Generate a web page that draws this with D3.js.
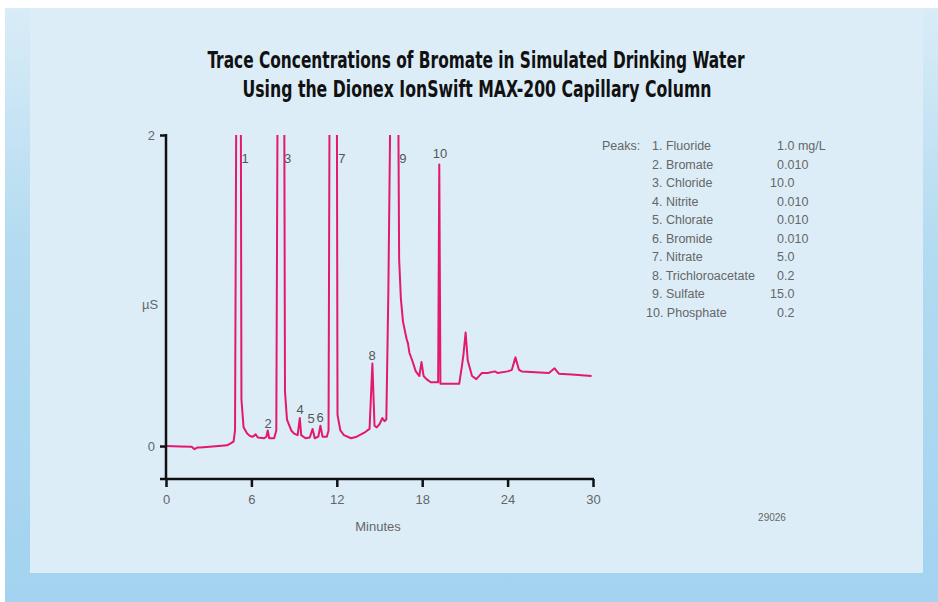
<!DOCTYPE html>
<html>
<head>
<meta charset="utf-8">
<script src="https://cdn.jsdelivr.net/npm/d3@7"></script>
<style>
  body { margin: 0; background: #fff; }
  svg { display: block; }
  text { font-family: "Liberation Sans", Arial, sans-serif; }
  .title text { font-family: "DejaVu Sans Condensed", "Liberation Sans", sans-serif; }
</style>
</head>
<body>
<svg width="938" height="602"></svg>
<script>
// chromatogram trace, time (min) vs conductance (µS); peaks above 2 are off scale
const times = [0, 1.0, 1.8, 2.0, 2.2, 2.4, 3.5, 4.3, 4.6, 4.75, 4.85, 4.95, 5.1, 5.25, 5.3, 5.45, 5.7, 5.9,
  6.1, 6.3, 6.45, 6.9, 7.05, 7.15, 7.25, 7.6, 7.75, 7.85, 8.1, 8.3, 8.36, 8.5, 8.8, 9.0, 9.25, 9.4, 9.5,
  9.8, 10.1, 10.3, 10.45, 10.7, 10.85, 11.0, 11.3, 11.42, 11.5, 11.75, 12.0, 12.05, 12.25, 12.5, 13.0, 13.4,
  14.0, 14.3, 14.5, 14.65, 14.8, 15.0, 15.2, 15.35, 15.48, 15.62, 15.8, 16.05, 16.3, 16.38, 16.5, 16.65,
  16.9, 17.0, 17.1, 17.3, 17.55, 17.8, 17.95, 18.1, 18.3, 18.6, 19.12, 19.2, 19.28, 19.5, 20.6, 20.8,
  20.9, 21.05, 21.2, 21.5, 21.8, 22.2, 22.6, 23.1, 23.3, 24.0, 24.3, 24.55, 24.8, 25.0, 26.9, 27.3, 27.6,
  28.5, 29.9];
const signal = [0, -0.003, -0.005, -0.02, -0.01, -0.01, -0.002, 0.005, 0.02, 0.03, 0.1, 2.5, 6, 2.5, 0.3, 0.12, 0.08, 0.065,
  0.06, 0.075, 0.055, 0.05, 0.06, 0.1, 0.05, 0.05, 0.1, 2.5, 6, 2.5, 0.35, 0.17, 0.1, 0.08, 0.07, 0.18, 0.07,
  0.05, 0.055, 0.11, 0.05, 0.06, 0.13, 0.06, 0.06, 0.1, 2.5, 6, 2.5, 0.2, 0.1, 0.07, 0.05, 0.06,
  0.09, 0.11, 0.53, 0.13, 0.12, 0.14, 0.18, 0.16, 0.17, 0.98, 2.5, 6, 2.5, 1.2, 0.95, 0.8,
  0.69, 0.66, 0.6, 0.55, 0.48, 0.45, 0.54, 0.45, 0.43, 0.41, 0.41, 1.81, 0.4, 0.4, 0.4, 0.52,
  0.59, 0.73, 0.55, 0.45, 0.43, 0.47, 0.47, 0.48, 0.47, 0.48, 0.49, 0.57, 0.49, 0.48, 0.47, 0.50, 0.465,
  0.46, 0.45];

// peak labels on the trace
const peakIds = ["1", "2", "3", "4", "5", "6", "7", "8", "9", "10"];
const peakTimes = [5.55, 7.17, 8.55, 9.42, 10.19, 10.82, 12.35, 14.48, 16.65, 19.25];
const peakLabelY = [1.82, 0.116, 1.82, 0.206, 0.148, 0.154, 1.82, 0.553, 1.82, 1.85];

// peaks table
const peakNames = ["Fluoride", "Bromate", "Chloride", "Nitrite", "Chlorate", "Bromide", "Nitrate",
  "Trichloroacetate", "Sulfate", "Phosphate"];
const peakConc = ["1.0 mg/L", "0.010", "10.0", "0.010", "0.010", "0.010", "5.0", "0.2", "15.0", "0.2"];

const xTicks = [0, 6, 12, 18, 24, 30];
const yTicks = [0, 2];

const svg = d3.select("svg");

// background: blue frame and pale panel
const defs = svg.append("defs");
const grad = defs.append("linearGradient").attr("id", "outer")
    .attr("x1", 0).attr("y1", 0).attr("x2", 0).attr("y2", 1);
grad.append("stop").attr("offset", "0%").attr("stop-color", "#d9ecf7");
grad.append("stop").attr("offset", "40%").attr("stop-color", "#b3dbf1");
grad.append("stop").attr("offset", "100%").attr("stop-color", "#a3d3f0");
svg.append("rect").attr("x", 5).attr("y", 8).attr("width", 933).attr("height", 594).attr("fill", "url(#outer)");
svg.append("rect").attr("x", 30).attr("y", 8).attr("width", 893).attr("height", 565).attr("fill", "#dcedf8");

// title
const title = svg.append("g").attr("class", "title").attr("font-weight", "bold").attr("fill", "#111").attr("font-size", 23);
title.append("text").attr("x", 476).attr("y", 68).attr("text-anchor", "middle")
    .attr("textLength", 537).attr("lengthAdjust", "spacingAndGlyphs")
    .text("Trace Concentrations of Bromate in Simulated Drinking Water");
title.append("text").attr("x", 477).attr("y", 97).attr("text-anchor", "middle")
    .attr("textLength", 469).attr("lengthAdjust", "spacingAndGlyphs")
    .text("Using the Dionex IonSwift MAX-200 Capillary Column");

// scales
const x = d3.scaleLinear().domain([0, 30]).range([166, 593]);
const y = d3.scaleLinear().domain([-0.212, 2]).range([479, 135]);

// clip off-scale peaks at the top of the y axis
defs.append("clipPath").attr("id", "plot")
  .append("rect").attr("x", x(0)).attr("y", y(2)).attr("width", x(30) - x(0) + 10).attr("height", y(-0.212) - y(2));

const line = d3.line().x(d => x(d[0])).y(d => y(d[1]));
svg.append("path")
    .datum(d3.zip(times, signal))
    .attr("clip-path", "url(#plot)")
    .attr("fill", "none")
    .attr("stroke", "#e3186f")
    .attr("stroke-width", 2)
    .attr("stroke-linejoin", "round")
    .attr("d", line);

// axes
const xAxis = svg.append("g").attr("transform", `translate(0,${y(-0.212)})`)
    .call(d3.axisBottom(x).tickValues(xTicks).tickSize(8).tickPadding(8).tickSizeOuter(0));
xAxis.select(".domain").remove();
xAxis.append("line").attr("x1", x(0) - 6).attr("x2", x(30) + 1).attr("stroke", "#111").attr("stroke-width", 2.5);
xAxis.selectAll(".tick line").attr("stroke", "#111").attr("stroke-width", 2.5);

const yAxis = svg.append("g").attr("transform", `translate(${x(0)},0)`)
    .call(d3.axisLeft(y).tickValues(yTicks).tickFormat(d3.format("d")).tickSize(6).tickPadding(5).tickSizeOuter(0));
yAxis.select(".domain").remove();
yAxis.append("line").attr("y1", y(2) - 1).attr("y2", y(-0.212)).attr("stroke", "#111").attr("stroke-width", 2.5);
yAxis.selectAll(".tick line").attr("stroke", "#111").attr("stroke-width", 2.5);

svg.selectAll(".tick text").attr("fill", "#666").attr("font-size", 13)
    .attr("font-family", "'Liberation Sans', Arial, sans-serif");

// axis titles
svg.append("text").attr("x", 150).attr("y", 309).attr("text-anchor", "middle")
    .attr("font-size", 13).attr("fill", "#666").text("µS");
svg.append("text").attr("x", 378).attr("y", 531).attr("text-anchor", "middle")
    .attr("font-size", 13).attr("fill", "#666").text("Minutes");

// peak numbers
svg.append("g").selectAll("text")
    .data(peakIds)
    .join("text")
    .attr("x", (d, i) => x(peakTimes[i]))
    .attr("y", (d, i) => y(peakLabelY[i]))
    .attr("text-anchor", "middle")
    .attr("font-size", 13)
    .attr("fill", "#555")
    .text(d => d);

// peaks table
const table = svg.append("g").attr("font-size", 12.5).attr("fill", "#666");
table.append("text").attr("x", 602).attr("y", 150).text("Peaks:");
peakNames.forEach((name, i) => {
    const rowY = 150 + i * 18.5;
    table.append("text").attr("x", i < 9 ? 652 : 646).attr("y", rowY).text(`${i + 1}. ${name}`);
    const parts = peakConc[i].split(".");
    table.append("text").attr("x", 784).attr("y", rowY).attr("text-anchor", "end").text(parts[0]);
    table.append("text").attr("x", 784).attr("y", rowY).text("." + parts[1]);
});

// figure number
svg.append("text").attr("x", 772).attr("y", 521).attr("text-anchor", "middle")
    .attr("font-size", 10).attr("fill", "#666").text("29026");
</script>
</body>
</html>
